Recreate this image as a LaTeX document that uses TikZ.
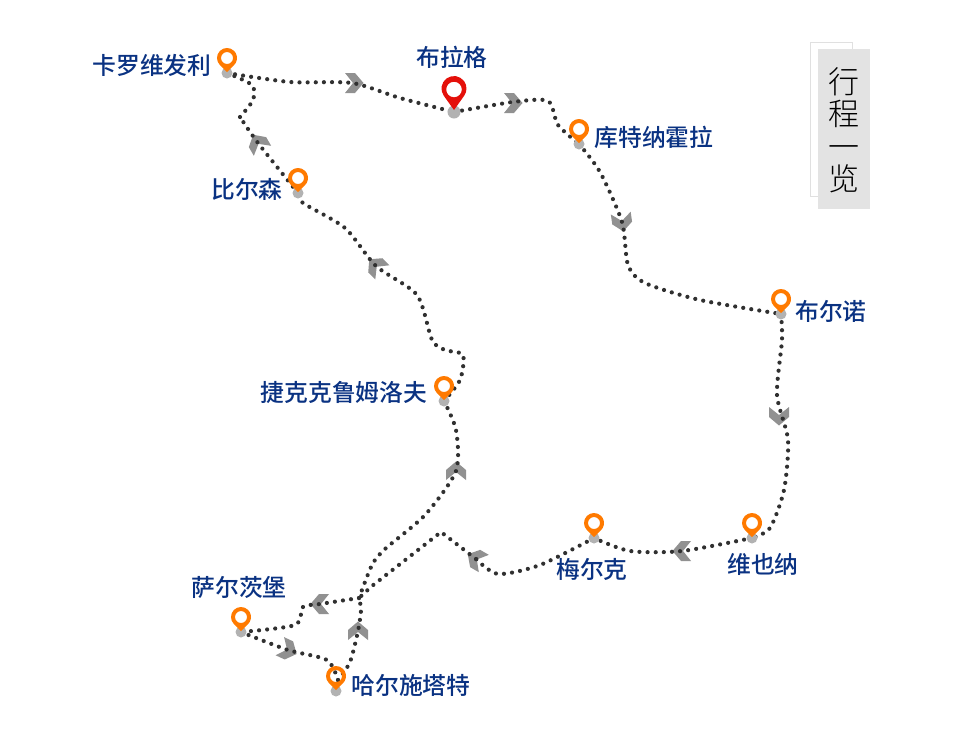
\documentclass[tikz,border=0pt]{standalone}
\usepackage{fontspec}
\setmainfont{Noto Sans CJK SC Medium}
\newfontfamily\titlefont{Noto Sans CJK SC Light}
\definecolor{navy}{RGB}{10,50,130}
\definecolor{dotgrey}{RGB}{48,48,48}
\definecolor{chevgrey}{RGB}{145,145,145}
\definecolor{basegrey}{RGB}{178,178,178}
\definecolor{pinorange}{RGB}{255,122,0}
\definecolor{pinred}{RGB}{228,16,10}
\tikzset{
  x=1pt,y=-1pt,
  route/.style={draw=dotgrey,line width=4.2pt,line cap=round,dash pattern=on 0pt off 8.13pt},
  place/.style={text=navy,inner sep=0pt,font=\fontsize{23.8}{26}\selectfont},
  chev/.pic={\fill[chevgrey] (9.5,0)--(1,-10)--(-9,-10)--(-1,0)--(-9,10)--(1,10)--cycle;},
  pinorange/.pic={
    \fill[basegrey] (0,0) circle[radius=5.5];
    \fill[pinorange,even odd rule] (0,-1) -- (-7,-7.86)
      arc[start angle=134.4,end angle=405.6,radius=10] -- cycle
      (0,-15) circle[radius=6];},
  pinred/.pic={
    \fill[basegrey] (0,0) circle[radius=6.5];
    \fill[pinred,even odd rule] (0,-2) -- (-10.2,-16.23)
      arc[start angle=144.5,end angle=395.5,radius=12.5] -- cycle
      (0,-22.5) circle[radius=7.8];}
}
\begin{document}
\begin{tikzpicture}
\useasboundingbox (0,0) rectangle (960,734);

% Stops on the tour
\coordinate (karlovy) at (227,73);
\coordinate (prague) at (454,112);
\coordinate (kutna) at (579,144);
\coordinate (brno) at (781,314);
\coordinate (pilsen) at (298,193);
\coordinate (krumlov) at (444,401);
\coordinate (vienna) at (752,538);
\coordinate (melk) at (594,538);
\coordinate (salzburg) at (241,632);
\coordinate (hallstatt) at (336,691);
\coordinate (junction) at (359,598);

% Direction chevrons
\pic[rotate=0] at (354,83) {chev};
\pic[rotate=0] at (513,103) {chev};
\pic[rotate=-82] at (622,222) {chev};
\pic[rotate=-90] at (779,416) {chev};
\pic[rotate=180] at (682,551) {chev};
\pic[rotate=150] at (476,559) {chev};
\pic[rotate=180] at (320,604) {chev};
\pic[rotate=-25] at (288,650) {chev};
\pic[rotate=90] at (358,631) {chev};
\pic[rotate=90] at (456,471) {chev};
\pic[rotate=135] at (376,266) {chev};
\pic[rotate=120] at (258,143) {chev};

% Dotted route
\draw[route] plot[smooth,tension=.45] coordinates {(karlovy) (290,82) (352,83) (400,98) (prague)};
\draw[route] plot[smooth,tension=.45] coordinates {(prague) (513,102) (548,101) (558,125) (kutna)};
\draw[route] plot[smooth,tension=.45] coordinates {(kutna) (600,172) (622,222) (628,265) (645,283) (700,300) (brno)};
\draw[route] plot[smooth,tension=.45] coordinates {(brno) (782,340) (777,395) (788,440) (784,490) (770,528) (vienna)};
\draw[route] plot[smooth,tension=.45] coordinates {(vienna) (682,551) (630,551) (melk)};
\draw[route] plot[smooth,tension=.45] coordinates {(melk) (540,565) (498,574) (476,559)};
\draw[route] (476,559) -- (441,532) -- (372,586) -- (junction);
\draw[route] plot[smooth,tension=.45] coordinates {(junction) (320,604) (303,607) (295,625) (salzburg)};
\draw[route] plot[smooth,tension=.45] coordinates {(salzburg) (288,650) (327,660) (338,680)};
\draw[route] plot[smooth,tension=.45] coordinates {(338,680) (350,662) (358,631) (361,610) (junction)};
\draw[route] plot[smooth,tension=.45] coordinates {(junction) (372,565) (385,549) (425,515) (456,471) (456,430) (krumlov)};
\draw[route] plot[smooth,tension=.45] coordinates {(krumlov) (460,380) (463,355) (445,350) (432,340) (417,295) (376,266) (345,228) (303,203) (pilsen)};
\draw[route] plot[smooth,tension=.45] coordinates {(pilsen) (258,143) (240,117)};
\draw[route] plot[smooth,tension=.45] coordinates {(240,117) (253,100) (252,85) (karlovy)};

% Location pins
\foreach \stop in {karlovy,kutna,brno,pilsen,krumlov,vienna,melk,salzburg,hallstatt}
  \pic at (\stop) {pinorange};
\pic at (prague) {pinred};

% Place names
\node[place] (lkarlovy) at (152,65) {卡罗维发利};
\node[place] (lprague) at (452,57) {布拉格};
\node[place] (lkutna) at (654,137) {库特纳霍拉};
\node[place] (lpilsen) at (247,189) {比尔森};
\node[place] (lbrno) at (831,311) {布尔诺};
\node[place] (lkrumlov) at (344,392) {捷克克鲁姆洛夫};
\node[place] (lvienna) at (763,564) {维也纳};
\node[place] (lmelk) at (592,569) {梅尔克};
\node[place] (lsalzburg) at (239,587) {萨尔茨堡};
\node[place] (lhallstatt) at (411,685) {哈尔施塔特};

% Title tab
\draw[draw=black!12,line width=1pt] (810.5,42.5) rectangle (852,196);
\fill[black!11] (818,49) rectangle (870,209);
\node[inner sep=0pt,align=center,font=\titlefont\fontsize{31}{32.5}\selectfont] (title) at (844,130) {行\\程\\一\\览};
\end{tikzpicture}
\end{document}
